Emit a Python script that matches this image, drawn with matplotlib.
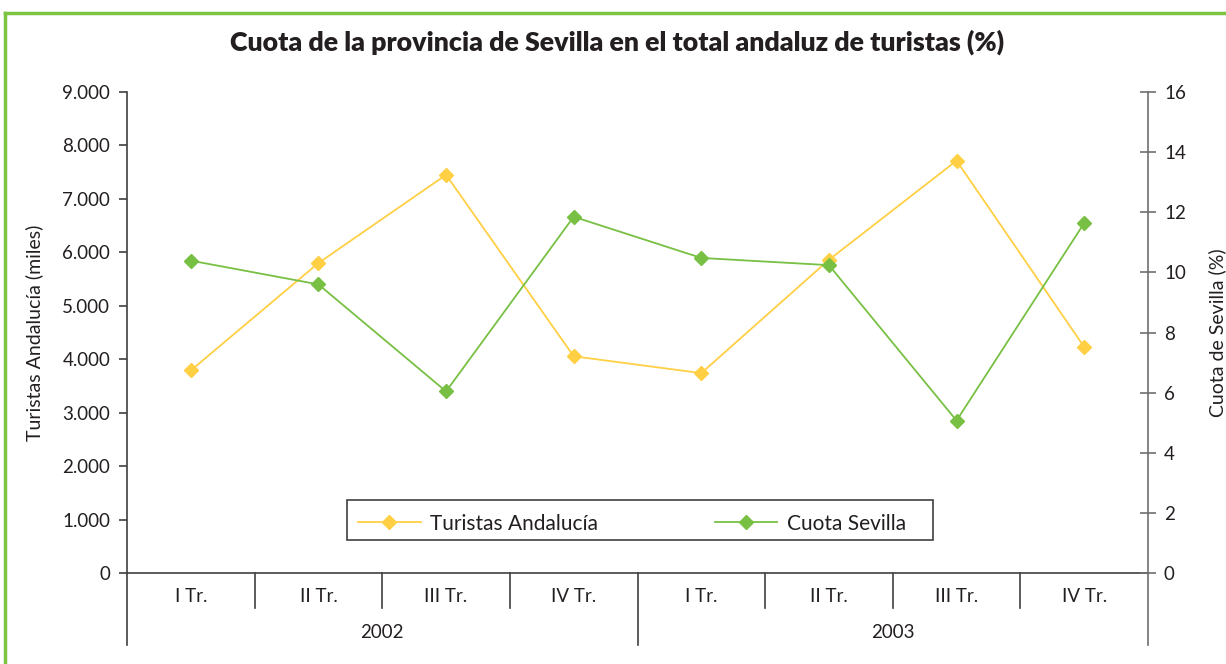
import matplotlib
matplotlib.use("Agg")
import matplotlib.pyplot as plt
from matplotlib.lines import Line2D
from matplotlib.patches import Rectangle

plt.rcParams['font.family'] = ['Lato', 'DejaVu Sans']

quarters = ["I Tr.", "II Tr.", "III Tr.", "IV Tr.", "I Tr.", "II Tr.", "III Tr.", "IV Tr."]
years = ["2002", "2003"]
turistas = [3790, 5800, 7450, 4055, 3740, 5860, 7715, 4230]
cuota = [10.39, 9.60, 6.04, 11.85, 10.48, 10.24, 5.07, 11.64]
left_ticks = [0, 1000, 2000, 3000, 4000, 5000, 6000, 7000, 8000, 9000]
right_ticks = [0, 2, 4, 6, 8, 10, 12, 14, 16]

TXT = '#231f20'
YEL = '#ffcf44'
GRN = '#78c043'
FRAME = '#7dc443'

fig = plt.figure(figsize=(12.26, 6.64), dpi=100)
ax = fig.add_axes([127/1226, 1-573/664, (1148-127)/1226, (573-92)/664])
ax2 = ax.twinx()

x = list(range(len(quarters)))
l1, = ax.plot(x, turistas, color=YEL, lw=1.3, marker='D', ms=7, mec=YEL, mfc=YEL)
l2, = ax2.plot(x, cuota, color=GRN, lw=1.3, marker='D', ms=7, mec=GRN, mfc=GRN)

ax.set_xlim(-0.5, len(quarters) - 0.5)
ax.set_ylim(left_ticks[0], left_ticks[-1])
ax2.set_ylim(right_ticks[0], right_ticks[-1])

ax.set_yticks(left_ticks)
ax.set_yticklabels([f"{v:,}".replace(",", ".") for v in left_ticks])
ax2.set_yticks(right_ticks)
ax2.set_yticklabels([str(v) for v in right_ticks])

for a in (ax, ax2):
    a.spines['top'].set_visible(False)
    a.set_xticks([])
ax.spines['right'].set_visible(False)
ax2.spines['left'].set_visible(False)
ax2.spines['bottom'].set_visible(False)
ax.spines['left'].set_color('#404040')
ax.spines['bottom'].set_color('#404040')
ax2.spines['right'].set_color('#707070')
for s in (ax.spines['left'], ax.spines['bottom'], ax2.spines['right']):
    s.set_linewidth(1.2)

ax.tick_params(axis='y', direction='out', length=6, width=1.2, color='#404040',
               labelsize=13.5, labelcolor=TXT, pad=6)
ax2.tick_params(axis='y', direction='inout', length=11, width=1.2, color='#707070',
                labelsize=13.5, labelcolor=TXT, pad=6)

ax.set_ylabel("Turistas Andalucía (miles)", fontsize=14, color=TXT, labelpad=14)
ax2.set_ylabel("Cuota de Sevilla (%)", fontsize=14, color=TXT, labelpad=16)

# category axis
xt = ax.get_xaxis_transform()
h = 573 - 92
q_depth = -(608 - 573) / h
y_depth = -(645 - 573) / h
n = len(quarters)
per_year = n // len(years)
for i in range(1, n):
    if i % per_year != 0:
        ax.plot([i - 0.5, i - 0.5], [0, q_depth], transform=xt, color='#404040', lw=1.2, clip_on=False)
for j in range(len(years) + 1):
    xx = j * per_year - 0.5
    ax.plot([xx, xx], [0, y_depth], transform=xt,
            color='#707070' if j == len(years) else '#404040', lw=1.2, clip_on=False)
for i, q in enumerate(quarters):
    ax.text(i, -(597 - 573) / h, q, transform=xt, ha='center', va='center', fontsize=13.5, color=TXT)
for j, yr in enumerate(years):
    ax.text(j * per_year + (per_year - 1) / 2, -(633 - 573) / h, yr, transform=xt,
            ha='center', va='center', fontsize=13.5, color=TXT)

# title
fig.text(617/1226, 1-42/664, "Cuota de la provincia de Sevilla en el total andaluz de turistas (%)",
         ha='center', va='center', fontsize=19.3, fontweight='heavy', color=TXT)

# legend (frame drawn separately, below the legend inside ax2)
ax2.add_patch(Rectangle((347/1226, 1-540/664), (933-347)/1226, 40/664,
                        transform=fig.transFigure, fill=True, facecolor='white',
                        edgecolor='#404040', lw=1.2, zorder=4, clip_on=False))
leg = ax2.legend([l1, l2], ["Turistas Andalucía", "Cuota Sevilla"],
                 loc='lower left', ncol=2, mode='expand',
                 bbox_to_anchor=(352/1226, 1-540/664, (912-352)/1226, 40/664),
                 bbox_transform=fig.transFigure, borderaxespad=0,
                 frameon=False, fontsize=15, handlelength=3.0,
                 handletextpad=0.45, borderpad=0.3)
leg.set_zorder(6)
for t in leg.get_texts():
    t.set_color(TXT)

# green frame
fig.add_artist(Line2D([5/1226, 5/1226], [0, 1-13/664], transform=fig.transFigure, color=FRAME, lw=2.5))
fig.add_artist(Line2D([5/1226, 1], [1-13/664, 1-13/664], transform=fig.transFigure, color=FRAME, lw=2.5))

fig.savefig("out.png", dpi=100)
